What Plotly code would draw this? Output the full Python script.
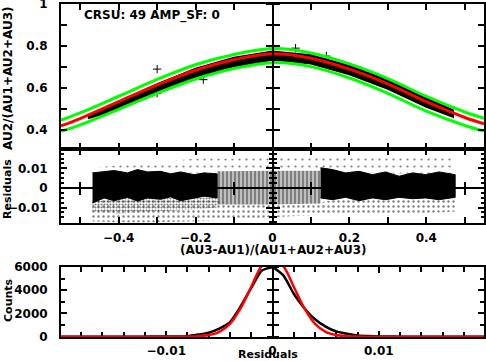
import plotly.graph_objects as go

# ---------------- data ----------------
# top panel: fitted curve and its bounds
curve_x = [-0.55, -0.5, -0.4, -0.3, -0.2, -0.1, 0.0, 0.1, 0.2, 0.3, 0.4, 0.5, 0.55]
fit_red = [0.420, 0.455, 0.535, 0.615, 0.685, 0.735, 0.763, 0.742, 0.690, 0.620, 0.535, 0.460, 0.430]
bound_upper = [0.448, 0.482, 0.561, 0.641, 0.711, 0.760, 0.788, 0.767, 0.715, 0.645, 0.560, 0.486, 0.456]
bound_lower = [0.394, 0.425, 0.499, 0.575, 0.643, 0.693, 0.721, 0.702, 0.648, 0.575, 0.490, 0.422, 0.395]

# top panel: dense data cloud (envelope) and a few stray points
band_x = [-0.48, -0.4, -0.3, -0.2, -0.1, 0.0, 0.1, 0.2, 0.3, 0.4, 0.47]
band_hi = [0.470, 0.538, 0.620, 0.693, 0.746, 0.775, 0.757, 0.706, 0.640, 0.555, 0.495]
band_lo = [0.455, 0.498, 0.574, 0.645, 0.703, 0.733, 0.716, 0.664, 0.595, 0.510, 0.462]
stray_x = [-0.30, -0.30, 0.06, 0.14, -0.18]
stray_y = [0.690, 0.576, 0.790, 0.752, 0.640]

# middle panel: residual cloud (ragged dense core)
core_left_x = [-0.468, -0.438, -0.412, -0.377, -0.351, -0.325, -0.291, -0.265, -0.239, -0.204, -0.178, -0.144]
core_left_hi = [0.0077, 0.0082, 0.0089, 0.0077, 0.0094, 0.0082, 0.0085, 0.0072, 0.0082, 0.0068, 0.0077, 0.0072]
core_left_lo = [-0.0077, -0.0051, -0.0065, -0.0048, -0.0067, -0.0051, -0.0058, -0.0045, -0.0065, -0.0051, -0.0042, -0.0051]
stripe_x = [-0.144, 0.0, 0.125]
stripe_hi = [0.0085, 0.0088, 0.0088]
stripe_lo = [-0.0085, -0.0085, -0.0080]
core_right_x = [0.125, 0.156, 0.190, 0.225, 0.260, 0.294, 0.329, 0.364, 0.398, 0.433, 0.475]
core_right_hi = [0.0103, 0.0094, 0.0077, 0.0085, 0.0068, 0.0082, 0.0060, 0.0077, 0.0068, 0.0082, 0.0068]
core_right_lo = [-0.0051, -0.0060, -0.0048, -0.0065, -0.0051, -0.0060, -0.0048, -0.0055, -0.0051, -0.0060, -0.0048]

halo_x = [-0.47, -0.4, -0.3, -0.2, -0.1, 0.0, 0.1, 0.2, 0.3, 0.4, 0.475]
halo_top = [0.010, 0.012, 0.013, 0.015, 0.015, 0.016, 0.016, 0.017, 0.017, 0.017, 0.015]
halo_in_top = [0.0077, 0.0085, 0.0080, 0.0075, 0.0085, 0.0088, 0.0092, 0.0080, 0.0075, 0.0070, 0.0068]
halo_in_bot = [-0.0070, -0.0050, -0.0050, -0.0045, -0.0085, -0.0085, -0.0082, -0.0048, -0.0050, -0.0050, -0.0048]
halo_bottom = [-0.0170, -0.0175, -0.0175, -0.0170, -0.0160, -0.0150, -0.0140, -0.0130, -0.0140, -0.0130, -0.0120]
dense_x = [-0.468, -0.4, -0.3, -0.2, -0.144]
dense_top = [-0.0070, -0.0050, -0.0045, -0.0045, -0.0045]
dense_bot = [-0.0120, -0.0130, -0.0120, -0.0110, -0.0100]

# bottom panel: residual histogram and gaussian
hist_x = [round(-0.02 + 0.001 * i, 3) for i in range(41)]
hist_counts = [0, 0, 0, 0, 0, 0, 0, 0, 0, 5, 10, 20, 40, 180, 350, 700, 1250, 2600, 4200, 5700,
               5950, 5300, 3700, 2450, 1500, 870, 450, 250, 110, 50, 20, 5, 0, 0, 0, 0, 0, 0, 0, 0, 0]
gauss_counts = [0, 0, 0, 0, 0, 0, 0, 0, 0, 0, 0, 0, 10, 40, 140, 420, 1100, 2450, 4300, 6100,
                6800, 6100, 4300, 2450, 1100, 420, 140, 40, 10, 0, 0, 0, 0, 0, 0, 0, 0, 0, 0, 0, 0]

# ---------------- geometry ----------------
W, H = 486, 361
XDOM = [61 / W, 484 / W]
Y1DOM = [1 - 149 / H, 1 - 4 / H]
Y2DOM = [1 - 223 / H, 1 - 149 / H]
Y3DOM = [1 - 337 / H, 1 - 267 / H]
XR = [-0.55, 0.55]
Y1R = [0.31, 1.0]
Y2R = [-0.0179, 0.0199]
X3R = [-0.0199, 0.0199]
Y3R = [-30, 6000]

FONT = dict(family="DejaVu Sans", size=12, color="black", weight="bold")
BLACK = "black"
CLEAR = "rgba(0,0,0,0)"


def px(v, dom, rng):
    return dom[0] + (v - rng[0]) / (rng[1] - rng[0]) * (dom[1] - dom[0])


fig = go.Figure()

# ---- top panel
fig.add_trace(go.Scatter(x=band_x + band_x[::-1], y=band_hi + band_lo[::-1], fill="toself",
                         fillcolor=BLACK, line=dict(color=BLACK, width=1.5), mode="lines",
                         xaxis="x", yaxis="y", hoverinfo="skip"))
fig.add_trace(go.Scatter(x=stray_x, y=stray_y, mode="markers",
                         marker=dict(symbol="cross-thin", size=6, line=dict(color=BLACK, width=1)),
                         xaxis="x", yaxis="y"))
for arr, col in [(bound_upper, "#00ff00"), (bound_lower, "#00ff00"), (fit_red, "#ff0000")]:
    fig.add_trace(go.Scatter(x=curve_x, y=arr, mode="lines", line=dict(color=col, width=3, shape="spline"),
                             xaxis="x", yaxis="y"))


# ---- middle panel
def poly(xs, top, bot):
    return xs + xs[::-1], top + bot[::-1]


def pattern_fill(xs, ys, shape, size, solidity):
    return go.Scatter(x=xs, y=ys, fill="toself", mode="none", fillcolor=CLEAR,
                      fillpattern=dict(shape=shape, fgcolor=BLACK, bgcolor=CLEAR, size=size, solidity=solidity),
                      xaxis="x2", yaxis="y2")


hx, hy = poly(halo_x, halo_top, halo_in_top)
fig.add_trace(pattern_fill(hx, hy, ".", 7, 0.08))
hx, hy = poly(halo_x, halo_in_bot, halo_bottom)
fig.add_trace(pattern_fill(hx, hy, ".", 5, 0.18))
hx, hy = poly(dense_x, dense_top, dense_bot)
fig.add_trace(pattern_fill(hx, hy, ".", 3, 0.4))
for xs, top, bot in [(core_left_x, core_left_hi, core_left_lo), (core_right_x, core_right_hi, core_right_lo)]:
    cx, cy = poly(xs, top, bot)
    fig.add_trace(go.Scatter(x=cx, y=cy, fill="toself", fillcolor=BLACK, mode="lines",
                             line=dict(color=BLACK, width=1), xaxis="x2", yaxis="y2"))
sx, sy = poly(stripe_x, stripe_hi, stripe_lo)
fig.add_trace(pattern_fill(sx, sy, "|", 4, 0.75))

# ---- bottom panel
fig.add_trace(go.Scatter(x=hist_x, y=hist_counts, mode="lines",
                         line=dict(color=BLACK, width=2.5, shape="spline", smoothing=0.6),
                         xaxis="x3", yaxis="y3"))
fig.add_trace(go.Scatter(x=hist_x, y=gauss_counts, mode="lines",
                         line=dict(color="#ff0000", width=2.5, shape="spline"),
                         xaxis="x3", yaxis="y3"))

# ---------------- axes ----------------
common = dict(showgrid=False, zeroline=False, showline=True, linewidth=2, linecolor=BLACK,
              ticks="inside", tickwidth=2, tickcolor=BLACK, ticklen=6, mirror="ticks",
              tickfont=FONT, automargin=False, ticklabeloverflow="allow")


def minor(dt, ln, w=2):
    return dict(dtick=dt, tick0=0, ticks="inside", ticklen=ln, tickwidth=w, tickcolor=BLACK)


lay = dict(
    xaxis=dict(common, domain=XDOM, range=XR, anchor="y", dtick=0.2, tick0=0, showticklabels=False,
               minor=minor(0.1, 6)),
    yaxis=dict(common, domain=Y1DOM, range=Y1R, anchor="x", dtick=0.2, tick0=0, ticklabelstandoff=9,
               minor=minor(0.1, 6)),
    xaxis2=dict(common, domain=XDOM, range=XR, anchor="y2", dtick=0.2, tick0=0, ticklabelstandoff=3,
                minor=minor(0.1, 6)),
    yaxis2=dict(common, domain=Y2DOM, range=Y2R, anchor="x2", dtick=0.01, tick0=0, ticklabelstandoff=9,
                minor=minor(0.0025, 3, 1.5)),
    xaxis3=dict(common, domain=XDOM, range=X3R, anchor="y3", dtick=0.01, tick0=0, ticklabelstandoff=2,
                layer="below traces", minor=minor(0.002, 5)),
    yaxis3=dict(common, domain=Y3DOM, range=Y3R, anchor="x3", dtick=2000, tick0=0, ticklabelstandoff=9,
                minor=minor(1000, 4)),
)

# zero axes drawn through the data (ticks on both sides)
x0p = px(0, XDOM, XR)
zero_specs = [  # (base y axis, y range, dtick, minor dtick, minor len, len)
    ("y", Y1R, 0.1, None, 0, 6),
    ("y2", Y2R, 0.01, 0.0025, 3, 6),
    ("y3", Y3R, 1000, None, 0, 5),
]
base_x_for = {"y": "x", "y2": "x2", "y3": "x3"}
n = 4
for base, rng, dt, mdt, mlen, tl in zero_specs:
    for side in ["left", "right"]:
        ax = dict(overlaying=base, anchor="free", position=x0p, side=side, range=rng, dtick=dt, tick0=0,
                  ticks="outside", ticklen=tl, tickwidth=2, tickcolor=BLACK, showticklabels=False,
                  showgrid=False, zeroline=False, showline=(side == "left"), linewidth=2, linecolor=BLACK,
                  automargin=False)
        if mdt:
            ax["minor"] = dict(dtick=mdt, tick0=0, ticks="outside", ticklen=mlen, tickwidth=1.5, tickcolor=BLACK)
        lay[f"yaxis{n}"] = ax
        fig.add_trace(go.Scatter(x=[], y=[], xaxis=base_x_for[base], yaxis=f"y{n}", showlegend=False))
        n += 1

y0p = px(0, Y2DOM, Y2R)
m = 4
for side in ["bottom", "top"]:
    lay[f"xaxis{m}"] = dict(overlaying="x2", anchor="free", position=y0p, side=side, range=XR, dtick=0.1, tick0=0,
                            ticks="outside", ticklen=6, tickwidth=2, tickcolor=BLACK, showticklabels=False,
                            showgrid=False, zeroline=False, showline=(side == "bottom"), linewidth=2,
                            linecolor=BLACK, automargin=False)
    fig.add_trace(go.Scatter(x=[], y=[], xaxis=f"x{m}", yaxis="y2", showlegend=False))
    m += 1

# ---------------- text ----------------
ann = [
    dict(text="CRSU: 49 AMP_SF: 0", x=82 / W, y=1 - 15 / H, xanchor="left", yanchor="middle"),
    dict(text="AU2/(AU1+AU2+AU3)", x=8 / W, y=1 - 78 / H, textangle=-90),
    dict(text="Residuals", x=7 / W, y=1 - 189 / H, textangle=-90, font=dict(FONT, size=11)),
    dict(text="(AU3-AU1)/(AU1+AU2+AU3)", x=273 / W, y=1 - 250 / H),
    dict(text="Counts", x=8 / W, y=1 - 300 / H, textangle=-90, font=dict(FONT, size=11)),
    dict(text="Residuals", x=268 / W, y=1 - 354 / H, font=dict(FONT, size=11)),
]
annotations = []
for a in ann:
    base = dict(xref="paper", yref="paper", showarrow=False, xanchor="center", yanchor="middle", font=FONT)
    base.update(a)
    annotations.append(base)

fig.update_layout(**lay)
fig.update_layout(width=W, height=H, autosize=False,
                  margin=dict(l=0, r=0, t=0, b=0, pad=0, autoexpand=False),
                  paper_bgcolor="white", plot_bgcolor="white", showlegend=False,
                  annotations=annotations)

fig.write_html("out.html", config={"displayModeBar": False},
               post_script="document.body.style.margin='0px'; document.body.style.overflow='hidden';")
